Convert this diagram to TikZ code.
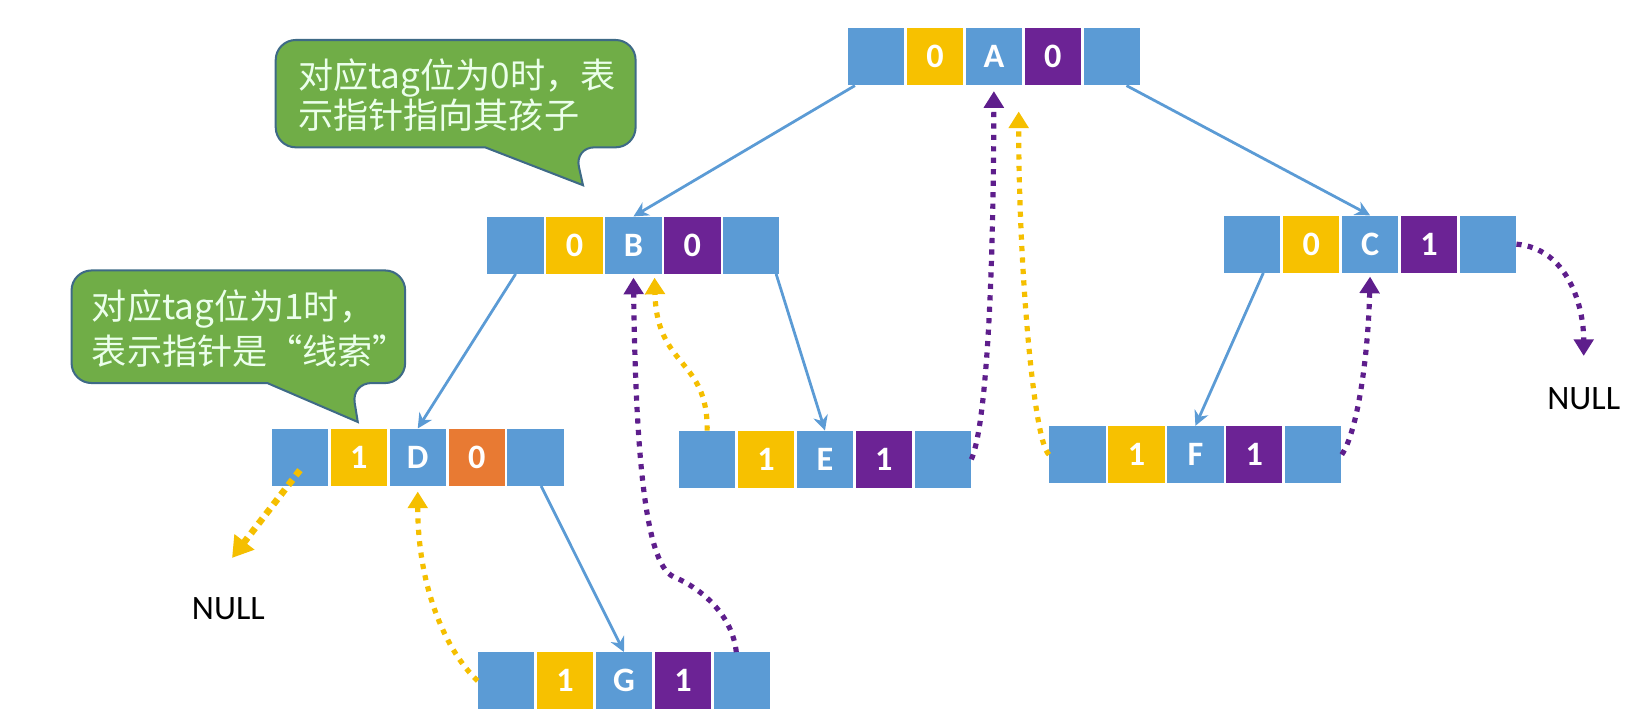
\documentclass[tikz,border=0pt]{standalone}
\usepackage{fontspec}
\usetikzlibrary{positioning,arrows.meta}
\newfontfamily\calibri{Carlito}
\newfontfamily\cjk{Noto Sans CJK SC}
\definecolor{cellblue}{HTML}{5B9BD5}
\definecolor{tagyellow}{HTML}{F7C100}
\definecolor{tagpurple}{HTML}{6C2395}
\definecolor{tagorange}{HTML}{E87A33}
\definecolor{bubblegreen}{HTML}{70AD47}
\definecolor{bubbleline}{HTML}{3E6A86}
\definecolor{threadpurple}{HTML}{5E1E8C}
\definecolor{threadyellow}{HTML}{F5BF00}
\tikzset{
	cell/.style={minimum width=1.07cm, minimum height=1.08cm, inner sep=0pt, text=white, font=\calibri\bfseries\fontsize{18.5}{20}\selectfont},
	bcell/.style={cell, fill=cellblue},
	ycell/.style={cell, fill=tagyellow},
	pcell/.style={cell, fill=tagpurple},
	ocell/.style={cell, fill=tagorange},
	link/.style={draw=cellblue, line width=1.5pt, -{Stealth[length=8pt,width=8pt]}},
	thread/.style={line width=2.8pt, dash pattern=on 2.8pt off 3.4pt, -{Triangle[length=9pt,width=10.5pt]}},
	ythread/.style={thread, draw=threadyellow},
	pthread/.style={thread, draw=threadpurple},
	bubble/.style={fill=bubblegreen, draw=bubbleline, line width=1.1pt, rounded corners=0.38cm},
	bubbletext/.style={inner sep=0pt, align=left, text=white!92!green},
	nulltext/.style={inner sep=0pt, font=\calibri\fontsize{18.5}{20}\selectfont}
}
\begin{document}
\begin{tikzpicture}[x=0.02cm, y=-0.02cm, node distance=0.036cm]
	\useasboundingbox (0,0) rectangle (1568,679.4);
	% A
	\node[bcell] (Al) at (832.5,54) {};
	\node[ycell, right=of Al] (Alt) {0};
	\node[bcell, right=of Alt] (Ad) {A};
	\node[pcell, right=of Ad] (Art) {0};
	\node[bcell, right=of Art] (Ar) {};
	% B
	\node[bcell] (Bl) at (490,233) {};
	\node[ycell, right=of Bl] (Blt) {0};
	\node[bcell, right=of Blt] (Bd) {B};
	\node[pcell, right=of Bd] (Brt) {0};
	\node[bcell, right=of Brt] (Br) {};
	% C
	\node[bcell] (Cl) at (1190,232) {};
	\node[ycell, right=of Cl] (Clt) {0};
	\node[bcell, right=of Clt] (Cd) {C};
	\node[pcell, right=of Cd] (Crt) {1};
	\node[bcell, right=of Crt] (Cr) {};
	% D
	\node[bcell] (Dl) at (285,434.5) {};
	\node[ycell, right=of Dl] (Dlt) {1};
	\node[bcell, right=of Dlt] (Dd) {D};
	\node[ocell, right=of Dd] (Drt) {0};
	\node[bcell, right=of Drt] (Dr) {};
	% E
	\node[bcell] (El) at (672,436.5) {};
	\node[ycell, right=of El] (Elt) {1};
	\node[bcell, right=of Elt] (Ed) {E};
	\node[pcell, right=of Ed] (Ert) {1};
	\node[bcell, right=of Ert] (Er) {};
	% F
	\node[bcell] (Fl) at (1024,432) {};
	\node[ycell, right=of Fl] (Flt) {1};
	\node[bcell, right=of Flt] (Fd) {F};
	\node[pcell, right=of Fd] (Frt) {1};
	\node[bcell, right=of Frt] (Fr) {};
	% G
	\node[bcell] (Gl) at (481,647) {};
	\node[ycell, right=of Gl] (Glt) {1};
	\node[bcell, right=of Glt] (Gd) {G};
	\node[pcell, right=of Gd] (Grt) {1};
	\node[bcell, right=of Grt] (Gr) {};
	% NULL
	\node[nulltext] (nullL) at (217,578) {NULL};
	\node[nulltext] (nullR) at (1505,379) {NULL};
	% bubbles
	\draw[bubble] (461,140) -- (262,140) -- (262,38) -- (604,38) -- (604,140) -- (546,140) [sharp corners] -- (554,176) -- cycle;
	\node[bubbletext, font=\cjk\fontsize{19}{19}\selectfont, anchor=west] (tip0) at (283,90) {对应tag位为0时，表\\示指针指向其孩子};
	\draw[bubble] (254,364) -- (68,364) -- (68,257) -- (385,257) -- (385,364) -- (334,364) [sharp corners] -- (340,401) -- cycle;
	\node[bubbletext, font=\cjk\fontsize{19}{24.5}\selectfont, anchor=west] (tip1) at (87,312) {对应tag位为1时，\\表示指针是“线索”};
	% children
	\draw[link] ([xshift=4pt]Al.south west) -- (Bd.north);
	\draw[link] ([xshift=8pt]Ar.south) -- (Cd.north);
	\draw[link] (Bl.south) -- (Dd.north);
	\draw[link] ([xshift=-2pt]Br.south east) -- (Ed.north);
	\draw[link] ([xshift=6pt]Cl.south) -- (Fd.north);
	\draw[link] ([xshift=3pt]Dr.south) -- (Gd.north);
	% threads
	\draw[ythread, line width=3.6pt, dash pattern=on 3.6pt off 3pt, -{Triangle[length=11pt,width=13pt]}] ([yshift=-7pt]Dl.center) -- ([xshift=2pt,yshift=21pt]nullL.north);
	\draw[ythread] (Gl.west) .. controls (425,620) and (397,560) .. ([yshift=-3pt]Dd.south);
	\draw[pthread] ([xshift=-3pt]Gr.north) .. controls (696,585) and (668,560) .. (640,548) .. controls (612,536) and (604,420) .. ([yshift=-2pt]Bd.south);
	\draw[ythread] (El.north) .. controls (673,340) and (624,350) .. ([xshift=-4pt,yshift=-2pt]Bd.south east);
	\draw[pthread] (Er.east) .. controls (935,410) and (944,300) .. ([yshift=-3pt]Ad.south);
	\draw[ythread] (Fl.west) .. controls (982,420) and (968,250) .. ([xshift=-2pt,yshift=-14pt]Ad.south east);
	\draw[pthread] (Fr.east) .. controls (1290,410) and (1300,340) .. ([yshift=-2pt]Cd.south);
	\draw[pthread] (Cr.east) to[out=-5,in=90] ([yshift=17pt]nullR.north);
\end{tikzpicture}
\end{document}
